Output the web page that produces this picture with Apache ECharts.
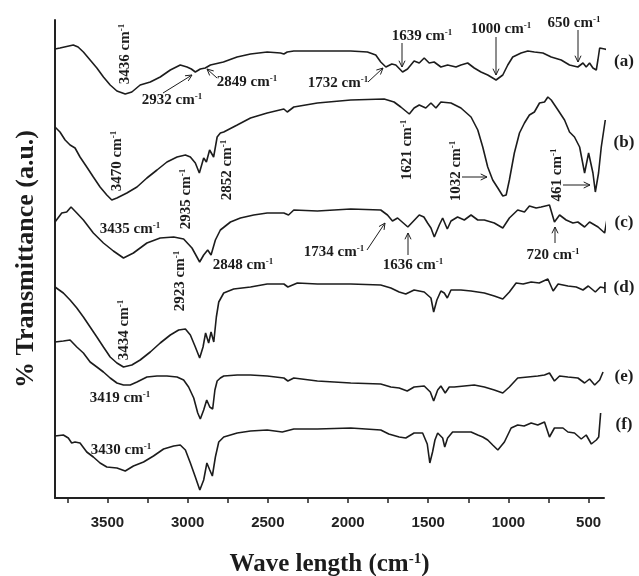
<!DOCTYPE html>
<html>
<head>
<meta charset="utf-8">
<script src="https://cdn.jsdelivr.net/npm/echarts@6/dist/echarts.min.js"></script>
<style>
  html, body { margin: 0; padding: 0; background: #fff; }
  #chart { width: 639px; height: 576px; }
</style>
</head>
<body>
<div id="chart"></div>
<script>
// wave numbers (cm-1) and transmittance (a.u., curves stacked with offsets as in the figure)
const tickLabels = [3500, 3000, 2500, 2000, 1500, 1000, 500];
const tickMarks = [3750, 3500, 3250, 3000, 2750, 2500, 2250, 2000, 1750, 1500, 1250, 1000, 750, 500];
const curveNames = ['(a)', '(b)', '(c)', '(d)', '(e)', '(f)'];

const specA = [[3827,449],[3796,450],[3713,453],[3683,451],[3650,446],[3608,438],[3566,430],[3525,421],[3483,413],[3441,407],[3389,404],[3348,406],[3296,413],[3233,416],[3171,421],[3108,428],[3046,433],[3004,431],[2977,429],[2952,426],[2921,429],[2890,430],[2858,433],[2777,436],[2692,441],[2608,444],[2504,446],[2421,445],[2400,444],[2379,446],[2338,447],[2191,447],[1983,447],[1879,446],[1827,443],[1796,436],[1764,431],[1727,434],[1702,433],[1660,426],[1629,429],[1588,437],[1556,435],[1525,440],[1494,435],[1463,436],[1421,431],[1379,433],[1327,431],[1296,433],[1254,435],[1213,430],[1171,426],[1129,423],[1077,418],[1035,423],[1004,433],[973,441],[921,445],[879,447],[838,446],[785,445],[733,441],[671,438],[619,433],[567,431],[535,435],[515,431],[494,435],[473,430],[452,428],[442,438],[431,450],[400,449],[379,448],[358,445]];

const specB = [[3827,371],[3796,366],[3764,358],[3733,353],[3702,350],[3671,341],[3629,331],[3588,321],[3546,311],[3504,303],[3473,298],[3441,300],[3379,305],[3316,311],[3254,320],[3191,328],[3129,336],[3066,341],[3014,343],[2983,341],[2952,335],[2927,325],[2900,340],[2883,336],[2863,348],[2838,341],[2816,361],[2796,365],[2775,366],[2691,373],[2608,380],[2504,385],[2400,389],[2379,386],[2338,391],[2191,395],[1983,398],[1775,399],[1713,396],[1671,391],[1618,384],[1588,390],[1556,393],[1515,390],[1483,395],[1452,390],[1421,396],[1358,395],[1296,390],[1233,381],[1191,368],[1160,351],[1129,331],[1098,318],[1066,310],[1035,302],[1014,303],[994,318],[963,345],[931,365],[900,375],[869,383],[838,386],[806,395],[775,396],[754,401],[733,398],[691,388],[650,378],[619,366],[588,361],[556,351],[525,325],[500,345],[473,325],[458,306],[438,325],[421,351],[396,378]];

const specC = [[3827,276],[3785,285],[3754,286],[3727,291],[3691,285],[3650,278],[3588,265],[3525,255],[3463,247],[3400,240],[3338,245],[3254,255],[3171,260],[3087,261],[3025,259],[2973,250],[2925,236],[2900,243],[2875,248],[2854,243],[2827,258],[2796,268],[2733,276],[2671,280],[2588,283],[2504,285],[2400,285],[2371,283],[2338,288],[2191,287],[1983,289],[1796,288],[1754,283],[1723,277],[1691,280],[1627,271],[1556,283],[1527,281],[1504,275],[1483,270],[1462,261],[1431,273],[1410,280],[1381,269],[1358,277],[1317,281],[1275,278],[1233,283],[1191,278],[1150,278],[1088,275],[1035,270],[994,280],[942,288],[900,286],[869,292],[827,290],[796,291],[744,293],[713,276],[681,283],[640,278],[598,275],[567,276],[525,271],[494,276],[441,271],[400,265],[383,281]];

const specD = [[3827,211],[3775,205],[3733,198],[3691,190],[3650,181],[3608,171],[3566,161],[3525,151],[3483,141],[3441,135],[3400,131],[3348,133],[3296,138],[3233,146],[3171,155],[3108,163],[3056,168],[3014,169],[2983,163],[2952,151],[2925,140],[2904,151],[2888,165],[2869,155],[2854,166],[2837,156],[2821,181],[2806,196],[2775,205],[2713,209],[2608,211],[2504,214],[2400,214],[2375,211],[2316,215],[2191,214],[1983,214],[1796,213],[1733,210],[1681,206],[1640,204],[1588,208],[1525,206],[1483,200],[1466,186],[1446,198],[1421,207],[1400,205],[1381,200],[1358,208],[1296,208],[1233,207],[1150,205],[1088,202],[1035,199],[994,206],[952,215],[908,214],[858,216],[808,215],[754,219],[721,207],[690,214],[629,212],[577,211],[535,208],[502,212],[458,206],[427,211],[399,210],[398,216],[398,205]];

const specE = [[3827,156],[3775,157],[3733,158],[3691,151],[3650,145],[3608,136],[3566,131],[3525,126],[3483,120],[3441,115],[3400,113],[3358,113],[3316,116],[3254,121],[3191,122],[3129,122],[3066,121],[3025,118],[2994,111],[2962,100],[2937,85],[2921,79],[2900,88],[2881,98],[2862,91],[2844,89],[2830,108],[2816,117],[2796,120],[2775,122],[2691,123],[2608,123],[2504,122],[2400,120],[2375,117],[2338,120],[2191,117],[1983,115],[1796,114],[1733,111],[1681,110],[1631,107],[1588,111],[1525,112],[1487,106],[1466,97],[1441,108],[1421,112],[1394,105],[1369,111],[1338,111],[1275,112],[1213,113],[1150,111],[1088,108],[1035,105],[994,111],[942,120],[879,121],[817,122],[775,123],[744,125],[713,117],[681,122],[629,121],[567,120],[525,115],[494,119],[462,113],[431,118],[410,126]];

const specF = [[3827,62],[3775,63],[3744,60],[3723,55],[3702,56],[3671,55],[3629,46],[3588,41],[3546,35],[3504,31],[3441,30],[3389,27],[3338,32],[3275,36],[3213,42],[3150,49],[3087,52],[3046,53],[3014,48],[2983,35],[2952,21],[2924,8],[2900,18],[2880,35],[2862,28],[2846,22],[2827,41],[2806,56],[2775,61],[2691,65],[2608,67],[2504,68],[2410,66],[2400,65],[2338,69],[2191,69],[1983,70],[1796,68],[1746,64],[1681,61],[1640,60],[1588,65],[1535,65],[1506,54],[1490,35],[1473,46],[1458,58],[1441,65],[1431,66],[1410,60],[1397,51],[1379,60],[1348,66],[1296,66],[1233,66],[1191,63],[1160,61],[1129,58],[1098,53],[1066,48],[1025,56],[983,70],[942,73],[902,72],[858,75],[817,73],[775,76],[744,61],[713,70],[660,70],[629,66],[588,65],[546,59],[515,63],[483,54],[452,58],[437,61],[425,85]];

const spectra = [specA, specB, specC, specD, specE, specF];

// peak labels: text, centre in px, vertical or not
const peakLabels = [
  ['3436', 125, 54, true], ['2932', 172, 100, false], ['2849', 247, 82, false],
  ['1732', 338, 83, false], ['1639', 422, 36, false], ['1000', 501, 29, false],
  ['650', 574, 23, false], ['3470', 117, 161, true], ['2935', 186, 199, true],
  ['2852', 227, 170, true], ['1621', 407, 150, true], ['1032', 456, 171, true],
  ['461', 557, 175, true], ['3435', 130, 229, false], ['2923', 180, 281, true],
  ['2848', 243, 265, false], ['1734', 334, 252, false], ['1636', 413, 265, false],
  ['720', 553, 255, false], ['3434', 124, 330, true], ['3419', 120, 398, false],
  ['3430', 121, 450, false]
];
const arrows = [
  [163, 93, 192, 75], [217, 78, 207, 69], [368, 82, 383, 68], [402, 43, 402, 67],
  [496, 37, 496, 75], [578, 30, 578, 62], [462, 177, 487, 177], [563, 185, 590, 185],
  [367, 250, 385, 223], [408, 255, 408, 233], [555, 243, 555, 227]
];
const nameSpots = [[624, 62], [624, 143], [624, 223], [624, 288], [624, 377], [624, 425]];

const serif = 'Liberation Serif';
const ink = '#1c1c1c';

function richStyle(size, sup) {
  return {
    n: { fontSize: size, fontWeight: 'bold', fontFamily: serif, fill: ink, color: ink },
    s: { fontSize: sup, fontWeight: 'bold', fontFamily: serif, fill: ink, color: ink, verticalAlign: 'top' }
  };
}

function arrowShapes(a) {
  const [x1, y1, x2, y2] = a;
  const ang = Math.atan2(y2 - y1, x2 - x1);
  const L = 7, s = 0.45;
  return [
    { type: 'line', shape: { x1, y1, x2, y2 }, style: { stroke: ink, lineWidth: 1 } },
    { type: 'polyline', shape: { points: [
        [x2 - L * Math.cos(ang - s), y2 - L * Math.sin(ang - s)], [x2, y2],
        [x2 - L * Math.cos(ang + s), y2 - L * Math.sin(ang + s)]] },
      style: { stroke: ink, lineWidth: 1, fill: null } }
  ];
}

const graphics = [];
peakLabels.forEach(p => {
  graphics.push({
    type: 'text', x: p[1], y: p[2], rotation: p[3] ? Math.PI / 2 : 0,
    style: { text: '{n|' + p[0] + ' cm}{s|-1}', rich: richStyle(15, 9), align: 'center', verticalAlign: 'middle' }
  });
});
arrows.forEach(a => graphics.push(...arrowShapes(a)));
curveNames.forEach((n, i) => {
  graphics.push({
    type: 'text', x: nameSpots[i][0], y: nameSpots[i][1],
    style: { text: n, font: 'bold 17px "Liberation Serif"', fill: ink, align: 'center', verticalAlign: 'middle' }
  });
});

const chart = echarts.init(document.getElementById('chart'));
chart.setOption({
  animation: false,
  backgroundColor: '#fff',
  grid: { left: 55, right: 35, top: 20, bottom: 78, containLabel: false, outerBoundsMode: 'none' },
  xAxis: {
    type: 'value', inverse: true, min: 404, max: 3827,
    name: '{n|Wave length (cm}{s|-1}{n|)}',
    nameLocation: 'middle', nameGap: 54,
    nameTextStyle: { rich: richStyle(25, 15) },
    axisLine: { lineStyle: { color: '#222', width: 2 } },
    axisTick: { customValues: tickMarks, length: 5, lineStyle: { color: '#222', width: 1.5 } },
    axisLabel: {
      customValues: tickLabels, formatter: v => String(v),
      fontFamily: 'Liberation Sans', fontWeight: 'bold', fontSize: 15, color: '#222', margin: 17
    },
    splitLine: { show: false }
  },
  yAxis: {
    type: 'value', min: 0, max: 478,
    name: '% Transmittance (a.u.)',
    nameLocation: 'middle', nameGap: 16, nameRotate: 90,
    nameTextStyle: { fontFamily: serif, fontWeight: 'bold', fontSize: 26, color: ink },
    axisLine: { show: true, lineStyle: { color: '#222', width: 2 } },
    axisTick: { show: false }, axisLabel: { show: false }, splitLine: { show: false }
  },
  series: spectra.map((d, i) => ({
    name: curveNames[i], type: 'line', data: d, symbol: 'none', clip: false,
    lineStyle: { color: ink, width: 1.6 }
  })),
  graphic: graphics
});
</script>
</body>
</html>
